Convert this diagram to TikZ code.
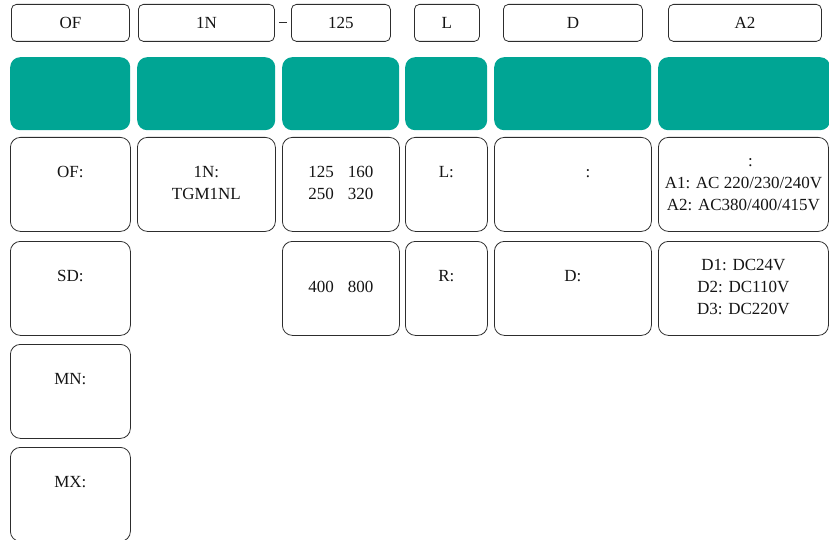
\documentclass[tikz,border=0pt]{standalone}
\usepackage{fontspec}
\setmainfont{Liberation Serif}
\definecolor{tealfill}{RGB}{0,165,148}
\definecolor{edgecol}{RGB}{45,45,45}
\definecolor{txtcol}{RGB}{20,20,20}
\begin{document}
\begin{tikzpicture}[x=1pt,y=-1pt,
  hdr/.style={draw=edgecol, line width=0.8pt, rounded corners=5pt, anchor=north west,
    inner sep=0pt, minimum height=37pt, text=txtcol, font=\fontsize{17}{22}\selectfont},
  tealbox/.style={fill=tealfill, rounded corners=10pt, anchor=north west, inner sep=0pt,
    minimum height=73pt},
  cell/.style={draw=edgecol, line width=0.8pt, rounded corners=10pt, anchor=north west,
    inner sep=0pt, align=center, minimum height=94pt, text=txtcol,
    font=\fontsize{17}{22}\selectfont},
  dashline/.style={draw=edgecol, line width=0.8pt, shorten <=4pt, shorten >=4pt}
]
\useasboundingbox (0,0) rectangle (829,540);

% header row
\node[hdr, minimum width=118pt] (h1) at (11,4) {OF};
\node[hdr, minimum width=136pt] (h2) at (138,4) {1N};
\node[hdr, minimum width=99pt]  (h3) at (291,4) {125};
\node[hdr, minimum width=65pt]  (h4) at (414,4) {L};
\node[hdr, minimum width=139pt] (h5) at (503,4) {D};
\node[hdr, minimum width=153pt] (h6) at (668,4) {A2};
\draw[dashline] (h2.east) -- (h3.west);

% teal row
\node[tealbox, minimum width=120pt] (t1) at (10,57) {};
\node[tealbox, minimum width=138pt] (t2) at (137,57) {};
\node[tealbox, minimum width=117pt] (t3) at (282,57) {};
\node[tealbox, minimum width=82pt]  (t4) at (405,57) {};
\node[tealbox, minimum width=157pt] (t5) at (494,57) {};
\node[tealbox, minimum width=172pt] (t6) at (658,57) {};

% row 1
\node[cell, minimum width=120pt] (c11) at (10,137) {OF:\strut\\\strut};
\node[cell, minimum width=138pt] (c12) at (137,137) {1N:\strut\\TGM1NL\strut};
\node[cell, minimum width=117pt] (c13) at (282,137) {125\hspace{14pt}160\strut\\250\hspace{14pt}320\strut};
\node[cell, minimum width=82pt]  (c14) at (405,137) {L:\strut\\\strut};
\node[cell, minimum width=157pt] (c15) at (494,137) {\hspace*{30pt}:\strut\\\strut};
\node[cell, minimum width=170pt] (c16) at (658,137) {\hspace*{14pt}:\strut\\A1: AC 220/230/240V\strut\\A2: AC380/400/415V\strut};

% row 2
\node[cell, minimum width=120pt] (c21) at (10,241) {SD:\strut\\\strut};
\node[cell, minimum width=117pt] (c23) at (282,241) {400\hspace{14pt}800\strut};
\node[cell, minimum width=82pt]  (c24) at (405,241) {R:\strut\\\strut};
\node[cell, minimum width=157pt] (c25) at (494,241) {D:\strut\\\strut};
\node[cell, minimum width=170pt] (c26) at (658,241) {D1: DC24V\strut\\D2: DC110V\strut\\D3: DC220V\strut};

% rows 3 and 4
\node[cell, minimum width=120pt] (c31) at (10,344) {MN:\strut\\\strut};
\node[cell, minimum width=120pt] (c41) at (10,447) {MX:\strut\\\strut};
\end{tikzpicture}
\end{document}
